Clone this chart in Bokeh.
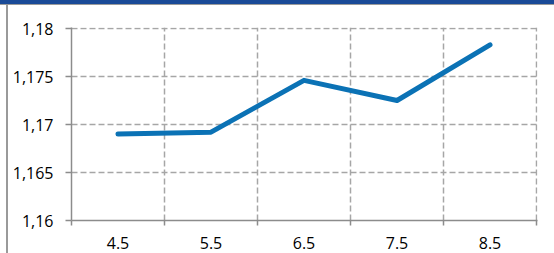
from bokeh.plotting import figure
from bokeh.models import FixedTicker, Range1d, GlobalInlineStyleSheet, ColumnDataSource
from bokeh.embed import file_html
from bokeh.resources import INLINE

categories = ["4.5", "5.5", "6.5", "7.5", "8.5"]
values = [1.1690, 1.1692, 1.1746, 1.1725, 1.1783]
y_ticks = [1.16, 1.165, 1.17, 1.175, 1.18]
y_tick_labels = ["1,16", "1,165", "1,17", "1,175", "1,18"]

centers = [i + 0.5 for i in range(len(categories))]
bounds = list(range(len(categories) + 1))

src = ColumnDataSource(dict(x=centers, y=values))

# one extra pixel on the top and right so the edge gridlines are not clipped
FW, FH = 465, 192
x_end = len(categories) * (FW + 1) / FW
y_end = y_ticks[0] + (y_ticks[-1] - y_ticks[0]) * (FH + 1) / FH

p = figure(frame_width=FW + 1, frame_height=FH + 1,
           min_border_left=71, min_border_right=17, min_border_top=27, min_border_bottom=33,
           x_range=Range1d(0, x_end), y_range=Range1d(y_ticks[0], y_end),
           output_backend="svg", toolbar_location=None)
css = """
body{margin:0 !important;}
body::before{content:"";position:fixed;left:0;top:0;width:100%;height:4px;
  background:#1A4A97;border-bottom:1.5px solid #9A9A9A;z-index:10;pointer-events:none;}
body::after{content:"";position:fixed;left:6px;top:5px;width:1.5px;height:100%;
  background:#9A9A9A;z-index:10;pointer-events:none;}
"""
p.stylesheets = [GlobalInlineStyleSheet(css=css)]
p.outline_line_color = None
p.background_fill_color = "white"
p.border_fill_color = "white"

FONT = "Open Sans"
GRAY_AX = "#8C8C8C"
GRAY_GRID = "#A6A6A6"

# x axis
xax = p.xaxis[0]
xax.ticker = FixedTicker(ticks=centers, minor_ticks=bounds)
xax.major_label_overrides = {c: lab for c, lab in zip(centers, categories)}
xax.major_tick_line_color = None
xax.minor_tick_line_color = GRAY_AX
xax.minor_tick_out = 5
xax.minor_tick_in = 0
xax.axis_line_color = GRAY_AX
xax.axis_line_width = 1.5
xax.minor_tick_line_width = 1.5
xax.major_label_standoff = 10
xax.major_label_text_font = FONT
xax.major_label_text_font_size = "16px"
xax.major_label_text_color = "#000000"

# y axis
yax = p.yaxis[0]
yax.ticker = FixedTicker(ticks=y_ticks, minor_ticks=[])
yax.major_label_overrides = {t: lab for t, lab in zip(y_ticks, y_tick_labels)}
yax.major_tick_out = 6
yax.major_tick_in = 0
yax.major_tick_line_color = GRAY_AX
yax.major_tick_line_width = 1.5
yax.axis_line_color = GRAY_AX
yax.axis_line_width = 1.5
yax.major_label_standoff = 12
yax.major_label_text_font = FONT
yax.major_label_text_font_size = "16px"
yax.major_label_text_color = "#000000"

# grids
p.xgrid.ticker = FixedTicker(ticks=bounds[1:])
p.ygrid.ticker = FixedTicker(ticks=y_ticks[1:])
for g in (p.xgrid[0], p.ygrid[0]):
    g.grid_line_color = GRAY_GRID
    g.grid_line_dash = "6 3"
    g.grid_line_width = 1.5

p.line("x", "y", source=src, line_color="#0B72B5", line_width=5,
       line_cap="round", line_join="round")

open("out.html", "w").write(file_html(p, INLINE))
